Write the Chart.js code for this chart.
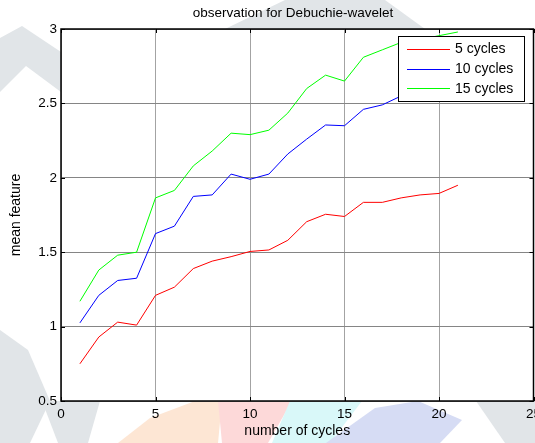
<!DOCTYPE html>
<html><head><meta charset="utf-8">
<script src="https://cdn.jsdelivr.net/npm/chart.js@4/dist/chart.umd.min.js"></script>
<style>html,body{margin:0;padding:0;background:#fff}#wrap{width:535px;height:443px;position:relative}</style>
</head><body><div id="wrap"><canvas id="c"></canvas></div>
<script>
// ---- data ----
const cycles   = [1,2,3,4,5,6,7,8,9,10,11,12,13,14,15,16,17,18,19,20,21];
const cycles5  = [0.75,0.93,1.03,1.01,1.21,1.265,1.39,1.44,1.47,1.505,1.515,1.58,1.705,1.755,1.74,1.835,1.835,1.865,1.885,1.895,1.95];
const cycles10 = [1.025,1.21,1.31,1.325,1.625,1.675,1.875,1.885,2.025,1.99,2.025,2.16,2.26,2.355,2.35,2.46,2.49,2.55,2.6,2.63,2.7];
const cycles15 = [1.17,1.38,1.48,1.50,1.865,1.915,2.08,2.18,2.30,2.29,2.32,2.435,2.60,2.69,2.65,2.81,2.86,2.91,2.93,2.955,2.98];
const seriesLabels = ['5 cycles','10 cycles','15 cycles'];
const xTicks = [0,5,10,15,20,25];
const yTicks = [0.5,1,1.5,2,2.5,3];
const titleText = 'observation for Debuchie-wavelet';
const xTitle = 'number of cycles';
const yTitle = 'mean feature';

const FONT = "'Liberation Sans', Arial, sans-serif";
const colors = ['#ff0000','#0000ff','#00ff00'];

function pts(arr){ return cycles.map((c,i)=>({x:c,y:arr[i]})); }

// background watermark (margins only) + white axes fill
const bgPlugin = {
  id:'bg',
  beforeDraw(chart){
    const ctx = chart.ctx, a = chart.chartArea;
    ctx.save();
    ctx.fillStyle='#fff'; ctx.fillRect(0,0,chart.width,chart.height);
    const shapes = [
      ['#e1e5e8',[[0,38],[22,26],[61,52],[61,92],[26,66],[0,92]]],
      ['#e1e5e8',[[225,29],[285,0],[385,0],[425,29]]],
      ['#e1e5e8',[[0,330],[28,350],[50,401],[30,443],[0,443]]],
      ['#e1e5e8',[[42,401],[100,401],[88,443],[58,443]]],
      ['#fde6d4',[[118,443],[150,418],[195,401],[222,401],[218,443]]],
      ['#fdd9d9',[[218,401],[292,401],[268,443],[222,443]]],
      ['#d9f8f9',[[290,401],[362,401],[330,443],[272,443]]],
      ['#d6dcf4',[[326,443],[375,408],[418,401],[462,420],[440,443]]],
      ['#e1e5e8',[[476,401],[535,401],[535,443],[505,443]]]
    ];
    for(const [col,p] of shapes){
      ctx.fillStyle=col; ctx.beginPath();
      p.forEach((q,i)=> i?ctx.lineTo(q[0],q[1]):ctx.moveTo(q[0],q[1]));
      ctx.closePath(); ctx.fill();
    }
    ctx.fillStyle='#fff';
    ctx.fillRect(a.left,a.top,a.right-a.left,a.bottom-a.top);
    ctx.restore();
  }
};

// legend inside the axes, title, box and inward ticks
const overlayPlugin = {
  id:'overlay',
  afterDatasetsDraw(chart){
    const ctx = chart.ctx, a = chart.chartArea;
    ctx.save();
    const w=125.5, h=65;
    const L = a.right - 135.5, T = a.top + 7;
    ctx.fillStyle='#fff'; ctx.fillRect(L,T,w,h);
    ctx.strokeStyle='#000'; ctx.lineWidth=1;
    ctx.strokeRect(Math.round(L)+0.5,Math.round(T)+0.5,Math.round(w),Math.round(h));
    ctx.font = '14px '+FONT; ctx.textBaseline='middle'; ctx.textAlign='left';
    chart.data.datasets.forEach((ds,i)=>{
      const y = T + 13 + i*19.7;
      ctx.strokeStyle = ds.borderColor; ctx.lineWidth=1;
      ctx.beginPath(); ctx.moveTo(L+9,Math.round(y)+0.5); ctx.lineTo(L+52,Math.round(y)+0.5); ctx.stroke();
      ctx.fillStyle='#000'; ctx.fillText(ds.label, L+57, y+0.5);
    });
    ctx.restore();
  },
  afterDraw(chart){
    const ctx = chart.ctx, a = chart.chartArea;
    const xs = chart.scales.x, ys = chart.scales.y;
    ctx.save();
    ctx.strokeStyle='#000'; ctx.lineWidth=1;
    ctx.beginPath();
    xs.ticks.forEach(t=>{
      const px = Math.round(xs.getPixelForValue(t.value))+0.5;
      ctx.moveTo(px,a.bottom); ctx.lineTo(px,a.bottom-4);
      ctx.moveTo(px,a.top); ctx.lineTo(px,a.top+4);
    });
    ys.ticks.forEach(t=>{
      const py = Math.round(ys.getPixelForValue(t.value))+0.5;
      ctx.moveTo(a.left,py); ctx.lineTo(a.left+4,py);
      ctx.moveTo(a.right,py); ctx.lineTo(a.right-4,py);
    });
    ctx.stroke();
    ctx.lineWidth=1.5;
    ctx.strokeRect(a.left,a.top,a.right-a.left,a.bottom-a.top);
    ctx.fillStyle='#000'; ctx.font='13.5px '+FONT;
    ctx.textAlign='center'; ctx.textBaseline='middle';
    ctx.fillText(titleText, 293, 13.5);
    ctx.restore();
  }
};

new Chart(document.getElementById('c'), {
  type:'line',
  data:{
    datasets:[
      {label:seriesLabels[0], data:pts(cycles5),  borderColor:colors[0]},
      {label:seriesLabels[1], data:pts(cycles10), borderColor:colors[1]},
      {label:seriesLabels[2], data:pts(cycles15), borderColor:colors[2]}
    ].map(d=>Object.assign(d,{borderWidth:1,pointRadius:0,tension:0,fill:false}))
  },
  options:{
    responsive:true, maintainAspectRatio:false, animation:false,
    layout:{padding:{top:29,right:1.5,bottom:0,left:0}},
    plugins:{legend:{display:false}, title:{display:false}, tooltip:{enabled:false}},
    scales:{
      x:{
        type:'linear', min:0, max:25,
        afterBuildTicks(s){ s.ticks = xTicks.map(v=>({value:v})); },
        afterFit(s){ s.height = 42; s.paddingLeft=0; s.paddingRight=0; },
        grid:{color:'#a3a3a3', lineWidth:1, drawTicks:false},
        border:{display:false},
        ticks:{color:'#000', padding:5, font:{family:FONT,size:13.5}, maxRotation:0, autoSkip:false,
               callback:(v)=>String(v)},
        title:{display:true, text:xTitle, color:'#000', font:{family:FONT,size:14}, padding:{top:0,bottom:3}}
      },
      y:{
        type:'linear', min:0.5, max:3,
        afterBuildTicks(s){ s.ticks = yTicks.map(v=>({value:v})); },
        afterFit(s){ s.width = 61; s.paddingTop=0; s.paddingBottom=0; },
        grid:{color:'#858585', lineWidth:1, drawTicks:false},
        border:{display:false},
        ticks:{color:'#000', padding:4, font:{family:FONT,size:13.5}, autoSkip:false,
               callback:(v)=>String(v)},
        title:{display:true, text:yTitle, color:'#000', font:{family:FONT,size:14}, padding:{top:8,bottom:0}}
      }
    }
  },
  plugins:[bgPlugin, overlayPlugin]
});
</script>
</body></html>
